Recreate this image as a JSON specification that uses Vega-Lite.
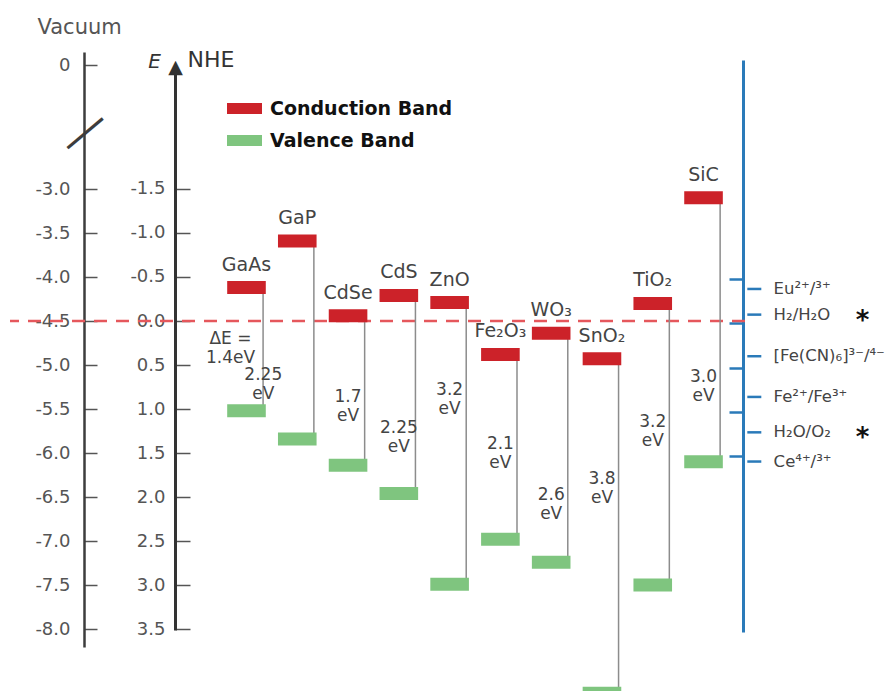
{
  "$schema": "https://vega.github.io/schema/vega-lite/v6.json",
  "width": 735,
  "height": 691,
  "autosize": {"type": "none"},
  "padding": {"left": 10, "top": 0, "right": 148, "bottom": 0},
  "background": "white",
  "config": {
    "view": {"stroke": null},
    "font": "DejaVu Sans",
    "axis": {"grid": false, "labelFont": "DejaVu Sans", "titleFont": "DejaVu Sans"}
  },
  "datasets": {
    "semiconductors": [
      {"material": "GaAs", "Conduction Band": -0.38, "Valence Band": 1.02, "gap_label": "ΔE =\n1.4eV", "label_at": 0.21},
      {"material": "GaP", "Conduction Band": -0.91, "Valence Band": 1.34, "gap_label": "2.25\neV", "label_at": 0.61},
      {"material": "CdSe", "Conduction Band": -0.06, "Valence Band": 1.64, "gap_label": "1.7\neV", "label_at": 0.86},
      {"material": "CdS", "Conduction Band": -0.29, "Valence Band": 1.96, "gap_label": "2.25\neV", "label_at": 1.22},
      {"material": "ZnO", "Conduction Band": -0.21, "Valence Band": 2.99, "gap_label": "3.2\neV", "label_at": 0.78},
      {"material": "Fe₂O₃", "Conduction Band": 0.38, "Valence Band": 2.48, "gap_label": "2.1\neV", "label_at": 1.4},
      {"material": "WO₃", "Conduction Band": 0.14, "Valence Band": 2.74, "gap_label": "2.6\neV", "label_at": 1.98},
      {"material": "SnO₂", "Conduction Band": 0.43, "Valence Band": 4.23, "gap_label": "3.8\neV", "label_at": 1.8},
      {"material": "TiO₂", "Conduction Band": -0.2, "Valence Band": 3.0, "gap_label": "3.2\neV", "label_at": 1.15},
      {"material": "SiC", "Conduction Band": -1.4, "Valence Band": 1.6, "gap_label": "3.0\neV", "label_at": 0.64}
    ],
    "redox": [
      {"couple": "Eu²⁺/³⁺", "E": -0.39, "starred": false},
      {"couple": "H₂/H₂O", "E": -0.1, "starred": true},
      {"couple": "[Fe(CN)₆]³⁻/⁴⁻", "E": 0.37, "starred": false},
      {"couple": "Fe²⁺/Fe³⁺", "E": 0.83, "starred": false},
      {"couple": "H₂O/O₂", "E": 1.23, "starred": true},
      {"couple": "Ce⁴⁺/³⁺", "E": 1.56, "starred": false}
    ],
    "reference": [
      {"level": "NHE zero", "E_vacuum": -4.5}
    ]
  },
  "resolve": {"scale": {"y": "independent"}, "axis": {"y": "independent"}},
  "layer": [
    {
      "data": {"name": "reference"},
      "mark": {"type": "rule", "color": "#e5575c", "strokeWidth": 2.5, "strokeDash": [13, 9]},
      "encoding": {
        "y": {
          "field": "E_vacuum",
          "type": "quantitative",
          "scale": {"domain": [0.1477, 0, -0.659, -2.477, -8.2045], "range": [52, 65, 123, 143, 647], "nice": false, "zero": false},
          "axis": {
            "orient": "left",
            "offset": -74,
            "values": [0, -3, -3.5, -4, -4.5, -5, -5.5, -6, -6.5, -7, -7.5, -8],
            "labelExpr": "datum.value == 0 ? '0' : '-' + format(abs(datum.value), '.1f')",
            "labelOverlap": false,
            "labelFontSize": 18,
            "labelColor": "#555555",
            "labelPadding": 27,
            "domainColor": "#3d3d3d",
            "domainWidth": 2.5,
            "tickColor": "#555555",
            "tickWidth": 1.5,
            "tickSize": -13,
            "title": "—",
            "titleFont": "Liberation Sans",
            "titleFontSize": 46,
            "titleFontWeight": "normal",
            "titleColor": "#3d3d3d",
            "titleAngle": -40,
            "titleX": -1,
            "titleY": 131,
            "titleAlign": "center",
            "titleBaseline": "middle"
          }
        }
      }
    },
    {
      "data": {"name": "semiconductors"},
      "mark": {"type": "rule", "color": "#8c8c8c", "strokeWidth": 1.5},
      "encoding": {
        "x": {
          "field": "material", "type": "nominal", "bandPosition": 0.93,
          "scale": {"type": "band", "domain": ["GaAs", "GaP", "CdSe", "CdS", "ZnO", "Fe₂O₃", "WO₃", "SnO₂", "TiO₂", "SiC", "Redox"], "range": [211.1, 769.7], "paddingInner": 0.24, "paddingOuter": 0.12},
          "axis": null
        },
        "y": {
          "field": "Conduction Band",
          "type": "quantitative",
          "scale": {"domain": [-2.852, 3.511], "range": [70, 630], "nice": false, "zero": false},
          "axis": {
            "orient": "left",
            "offset": -165,
            "values": [-1.5, -1, -0.5, 0, 0.5, 1, 1.5, 2, 2.5, 3, 3.5],
            "labelExpr": "(datum.value < 0 ? '-' : '') + format(abs(datum.value), '.1f')",
            "labelOverlap": false,
            "labelFontSize": 18,
            "labelColor": "#555555",
            "labelPadding": 25,
            "domainColor": "#333333",
            "domainWidth": 3,
            "tickColor": "#555555",
            "tickWidth": 1.5,
            "tickSize": -15,
            "title": "E",
            "titleFontStyle": "italic",
            "titleFontSize": 20,
            "titleFontWeight": "normal",
            "titleColor": "#333333",
            "titleAngle": 0,
            "titleX": -21,
            "titleY": 67,
            "titleAlign": "center",
            "titleBaseline": "alphabetic"
          }
        },
        "y2": {"field": "Valence Band"}
      }
    },
    {
      "data": {"name": "semiconductors"},
      "transform": [{"fold": ["Conduction Band", "Valence Band"], "as": ["band", "E"]}],
      "mark": {"type": "tick", "size": 38.6, "thickness": 13, "opacity": 1},
      "encoding": {
        "x": {
          "field": "material", "type": "nominal",
          "scale": {"type": "band", "domain": ["GaAs", "GaP", "CdSe", "CdS", "ZnO", "Fe₂O₃", "WO₃", "SnO₂", "TiO₂", "SiC", "Redox"], "range": [211.1, 769.7], "paddingInner": 0.24, "paddingOuter": 0.12},
          "axis": null
        },
        "y": {
          "field": "E",
          "type": "quantitative",
          "scale": {"domain": [-2.852, 3.511], "range": [70, 630], "nice": false, "zero": false},
          "axis": {
            "orient": "left", "offset": 0, "domain": false, "ticks": false, "labels": false,
            "title": "▲", "titleFontSize": 19, "titleFontWeight": "normal", "titleColor": "#333333",
            "titleAngle": 0, "titleX": 165, "titleY": 72, "titleAlign": "center", "titleBaseline": "alphabetic"
          }
        },
        "color": {
          "field": "band",
          "type": "nominal",
          "scale": {"domain": ["Conduction Band", "Valence Band"], "range": ["#cc2229", "#7fc57f"]},
          "legend": {
            "orient": "none", "legendX": 217, "legendY": 91, "direction": "vertical", "title": null,
            "symbolType": "M-1,-0.31H1V0.31H-1Z", "symbolSize": 1225, "symbolStrokeWidth": 0, "symbolOpacity": 1,
            "labelFont": "DejaVu Sans", "labelFontSize": 19, "labelFontWeight": "bold", "labelColor": "#111111",
            "labelOffset": 8, "labelLimit": 400, "rowPadding": 4, "padding": 0
          }
        }
      }
    },
    {
      "data": {"name": "semiconductors"},
      "mark": {"type": "text", "baseline": "bottom", "dy": -13, "fontSize": 19, "color": "#444444"},
      "encoding": {
        "x": {
          "field": "material", "type": "nominal",
          "scale": {"type": "band", "domain": ["GaAs", "GaP", "CdSe", "CdS", "ZnO", "Fe₂O₃", "WO₃", "SnO₂", "TiO₂", "SiC", "Redox"], "range": [211.1, 769.7], "paddingInner": 0.24, "paddingOuter": 0.12},
          "axis": null
        },
        "y": {
          "field": "Conduction Band",
          "type": "quantitative",
          "scale": {"domain": [-2.852, 3.511], "range": [70, 630], "nice": false, "zero": false},
          "axis": {
            "orient": "left", "offset": 0, "domain": false, "ticks": false, "labels": false,
            "title": "NHE", "titleFontSize": 22, "titleFontWeight": "normal", "titleColor": "#333333",
            "titleAngle": 0, "titleX": 177, "titleY": 66, "titleAlign": "left", "titleBaseline": "alphabetic"
          }
        },
        "text": {"field": "material"}
      }
    },
    {
      "data": {"name": "semiconductors"},
      "transform": [{"filter": "datum.material != 'GaAs' && datum.material != 'GaP'"}],
      "mark": {"type": "text", "baseline": "middle", "align": "center", "lineBreak": "\n", "lineHeight": 19, "fontSize": 17, "color": "#444444"},
      "encoding": {
        "x": {
          "field": "material", "type": "nominal",
          "scale": {"type": "band", "domain": ["GaAs", "GaP", "CdSe", "CdS", "ZnO", "Fe₂O₃", "WO₃", "SnO₂", "TiO₂", "SiC", "Redox"], "range": [211.1, 769.7], "paddingInner": 0.24, "paddingOuter": 0.12},
          "axis": null
        },
        "y": {
          "field": "label_at",
          "type": "quantitative",
          "scale": {"domain": [-2.852, 3.511], "range": [70, 630], "nice": false, "zero": false},
          "axis": {
            "orient": "left", "offset": 0, "domain": false, "ticks": false, "labels": false,
            "title": "Vacuum", "titleFontSize": 21, "titleFontWeight": "normal", "titleColor": "#555555",
            "titleAngle": 0, "titleX": 27, "titleY": 33, "titleAlign": "left", "titleBaseline": "alphabetic"
          }
        },
        "text": {"field": "gap_label"}
      }
    },
    {
      "data": {"name": "semiconductors"},
      "transform": [{"filter": "datum.material == 'GaP'"}],
      "mark": {"type": "text", "baseline": "middle", "align": "center", "lineBreak": "\n", "lineHeight": 19, "fontSize": 17, "color": "#444444", "dx": -34},
      "encoding": {
        "x": {
          "field": "material", "type": "nominal",
          "scale": {"type": "band", "domain": ["GaAs", "GaP", "CdSe", "CdS", "ZnO", "Fe₂O₃", "WO₃", "SnO₂", "TiO₂", "SiC", "Redox"], "range": [211.1, 769.7], "paddingInner": 0.24, "paddingOuter": 0.12},
          "axis": null
        },
        "y": {
          "field": "label_at",
          "type": "quantitative",
          "scale": {"domain": [-2.852, 3.511], "range": [70, 630], "nice": false, "zero": false},
          "axis": null
        },
        "text": {"field": "gap_label"}
      }
    },
    {
      "data": {"name": "semiconductors"},
      "transform": [{"filter": "datum.material == 'GaAs'"}],
      "mark": {"type": "text", "baseline": "middle", "align": "center", "lineBreak": "\n", "lineHeight": 19, "fontSize": 17, "color": "#444444", "dx": -16},
      "encoding": {
        "x": {
          "field": "material", "type": "nominal",
          "scale": {"type": "band", "domain": ["GaAs", "GaP", "CdSe", "CdS", "ZnO", "Fe₂O₃", "WO₃", "SnO₂", "TiO₂", "SiC", "Redox"], "range": [211.1, 769.7], "paddingInner": 0.24, "paddingOuter": 0.12},
          "axis": null
        },
        "y": {
          "field": "label_at",
          "type": "quantitative",
          "scale": {"domain": [-2.852, 3.511], "range": [70, 630], "nice": false, "zero": false},
          "axis": null
        },
        "text": {"field": "gap_label"}
      }
    },
    {
      "data": {"name": "redox"},
      "mark": {"type": "tick", "size": 14, "thickness": 2.5, "color": "#2a7ab9", "opacity": 1},
      "encoding": {
        "x": {
          "datum": "Redox", "type": "nominal",
          "scale": {"type": "band", "domain": ["GaAs", "GaP", "CdSe", "CdS", "ZnO", "Fe₂O₃", "WO₃", "SnO₂", "TiO₂", "SiC", "Redox"], "range": [211.1, 769.7], "paddingInner": 0.24, "paddingOuter": 0.12},
          "axis": null
        },
        "y": {
          "field": "E",
          "type": "quantitative",
          "scale": {"domain": [-2.977, 3.486], "range": [60, 632], "nice": false, "zero": false},
          "axis": {
            "orient": "left", "offset": -733,
            "values": [-0.5, 0, 0.5, 1, 1.5],
            "labels": false,
            "domainColor": "#2a7ab9", "domainWidth": 3,
            "tickColor": "#2a7ab9", "tickWidth": 2.5, "tickSize": 14,
            "title": null
          }
        }
      }
    },
    {
      "data": {"name": "redox"},
      "mark": {"type": "text", "align": "left", "baseline": "middle", "fontSize": 16.5, "color": "#444444"},
      "encoding": {
        "x": {
          "datum": "Redox", "type": "nominal", "bandPosition": 1,
          "scale": {"type": "band", "domain": ["GaAs", "GaP", "CdSe", "CdS", "ZnO", "Fe₂O₃", "WO₃", "SnO₂", "TiO₂", "SiC", "Redox"], "range": [211.1, 769.7], "paddingInner": 0.24, "paddingOuter": 0.12},
          "axis": null
        },
        "y": {
          "field": "E",
          "type": "quantitative",
          "scale": {"domain": [-2.977, 3.486], "range": [60, 632], "nice": false, "zero": false},
          "axis": null
        },
        "text": {"field": "couple"}
      }
    },
    {
      "data": {"name": "redox"},
      "transform": [{"filter": "datum.starred"}],
      "mark": {"type": "text", "align": "center", "baseline": "middle", "fontSize": 26, "fontWeight": "bold", "color": "#111111", "dx": 89, "dy": 6},
      "encoding": {
        "x": {
          "datum": "Redox", "type": "nominal", "bandPosition": 1,
          "scale": {"type": "band", "domain": ["GaAs", "GaP", "CdSe", "CdS", "ZnO", "Fe₂O₃", "WO₃", "SnO₂", "TiO₂", "SiC", "Redox"], "range": [211.1, 769.7], "paddingInner": 0.24, "paddingOuter": 0.12},
          "axis": null
        },
        "y": {
          "field": "E",
          "type": "quantitative",
          "scale": {"domain": [-2.977, 3.486], "range": [60, 632], "nice": false, "zero": false},
          "axis": null
        },
        "text": {"value": "*"}
      }
    }
  ]
}
